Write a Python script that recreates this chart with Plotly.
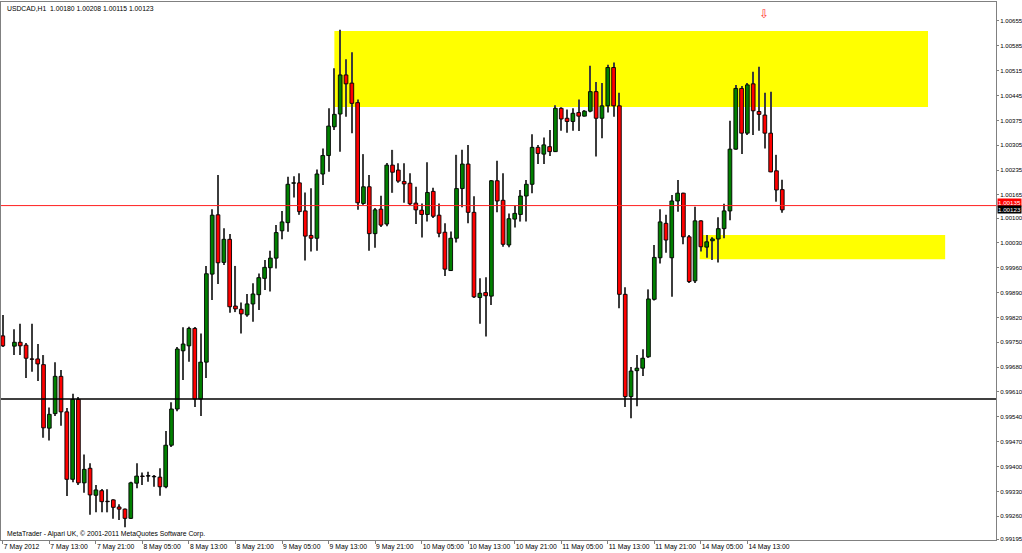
import plotly.graph_objects as go

# ---------------- data ----------------
symbol_title = "USDCAD,H1  1.00180 1.00208 1.00115 1.00123"
credit = "MetaTrader - Alpari UK, \u00a9 2001-2011 MetaQuotes Software Corp."

bar_index = [0] + list(range(2, 135))

opens = [0.99768, 0.99739, 0.99750, 0.99742, 0.99703, 0.99703, 0.99687, 0.99508, 0.99549, 0.99654,
         0.99554, 0.99364, 0.99589, 0.99354, 0.99395, 0.99319, 0.99332, 0.99302, 0.99306, 0.99286,
         0.99280, 0.99254, 0.99353, 0.99373, 0.99373, 0.99371, 0.99370, 0.99343, 0.99460, 0.99562,
         0.99726, 0.99740, 0.99789, 0.99590, 0.99694, 0.99942, 1.00109, 0.99975, 1.00040, 0.99852,
         0.99843, 0.99827, 0.99858, 0.99884, 0.99930, 0.99960, 0.99987, 1.00064, 1.00087, 1.00198,
         1.00199, 1.00120, 1.00051, 1.00043, 1.00224, 1.00276, 1.00357, 1.00393, 1.00503, 1.00480,
         1.00425, 1.00141, 1.00188, 1.00056, 1.00125, 1.00083, 1.00249, 1.00235, 1.00203, 1.00198,
         1.00142, 1.00122, 1.00110, 1.00175, 1.00108, 1.00060, 0.99952, 1.00043, 1.00183, 1.00252,
         1.00116, 0.99876, 0.99890, 0.99880, 1.00205, 1.00150, 1.00024, 1.00097, 1.00110, 1.00162,
         1.00195, 1.00299, 1.00280, 1.00301, 1.00287, 1.00409, 1.00381, 1.00372, 1.00397, 1.00387,
         1.00401, 1.00456, 1.00381, 1.00416, 1.00524, 1.00416, 0.99885, 0.99597, 0.99670, 0.99677,
         0.99709, 0.99871, 0.99988, 1.00085, 0.99988, 1.00148, 1.00170, 1.00047, 0.99923, 1.00092,
         1.00018, 1.00036, 1.00041, 1.00070, 1.00120, 1.00294, 1.00465, 1.00339, 1.00478, 1.00400,
         1.00390, 1.00339, 1.00233, 1.00180]

highs = [0.99827, 0.99787, 0.99802, 0.99748, 0.99802, 0.99745, 0.99714, 0.99566, 0.99694, 0.99672,
         0.99565, 0.99605, 0.99596, 0.99434, 0.99409, 0.99348, 0.99337, 0.99336, 0.99308, 0.99294,
         0.99282, 0.99357, 0.99409, 0.99383, 0.99385, 0.99376, 0.99395, 0.99500, 0.99581, 0.99737,
         0.99792, 0.99794, 0.99793, 0.99775, 0.99965, 1.00125, 1.00221, 1.00071, 1.00055, 0.99965,
         0.99862, 0.99886, 0.99916, 0.99944, 0.99982, 1.00008, 1.00080, 1.00120, 1.00216, 1.00218,
         1.00226, 1.00172, 1.00184, 1.00237, 1.00296, 1.00409, 1.00522, 1.00630, 1.00547, 1.00567,
         1.00434, 1.00280, 1.00221, 1.00128, 1.00163, 1.00255, 1.00292, 1.00254, 1.00254, 1.00226,
         1.00188, 1.00141, 1.00257, 1.00185, 1.00141, 1.00085, 1.00062, 1.00278, 1.00292, 1.00306,
         1.00161, 0.99930, 0.99933, 1.00207, 1.00261, 1.00226, 1.00113, 1.00134, 1.00179, 1.00207,
         1.00336, 1.00306, 1.00327, 1.00348, 1.00418, 1.00412, 1.00406, 1.00409, 1.00434, 1.00404,
         1.00529, 1.00483, 1.00480, 1.00532, 1.00538, 1.00453, 0.99905, 0.99680, 0.99714, 0.99730,
         0.99899, 1.00024, 1.00125, 1.00109, 1.00165, 1.00207, 1.00171, 1.00052, 1.00132, 1.00094,
         1.00052, 1.00046, 1.00102, 1.00140, 1.00374, 1.00475, 1.00472, 1.00480, 1.00512, 1.00526,
         1.00453, 1.00456, 1.00278, 1.00208]

lows = [0.99737, 0.99714, 0.99714, 0.99649, 0.99667, 0.99641, 0.99481, 0.99473, 0.99542, 0.99515,
        0.99317, 0.99356, 0.99348, 0.99326, 0.99264, 0.99271, 0.99271, 0.99271, 0.99253, 0.99249,
        0.99229, 0.99252, 0.99339, 0.99348, 0.99357, 0.99343, 0.99318, 0.99339, 0.99455, 0.99556,
        0.99644, 0.99695, 0.99568, 0.99542, 0.99649, 0.99869, 0.99914, 0.99968, 0.99833, 0.99835,
        0.99775, 0.99822, 0.99808, 0.99841, 0.99897, 0.99893, 0.99958, 1.00040, 1.00061, 1.00158,
        1.00109, 0.99980, 1.00006, 1.00008, 1.00193, 1.00230, 1.00348, 1.00287, 1.00385, 1.00339,
        1.00123, 1.00137, 1.00008, 1.00016, 1.00075, 1.00077, 1.00171, 1.00199, 1.00143, 1.00137,
        1.00083, 1.00045, 1.00090, 1.00100, 1.00046, 0.99937, 0.99951, 1.00031, 1.00130, 1.00085,
        0.99875, 0.99802, 0.99766, 0.99855, 1.00116, 1.00019, 1.00018, 1.00073, 1.00090, 1.00090,
        1.00170, 1.00252, 1.00252, 1.00275, 1.00286, 1.00346, 1.00340, 1.00346, 1.00345, 1.00386,
        1.00398, 1.00273, 1.00325, 1.00397, 1.00385, 0.99846, 0.99568, 0.99536, 0.99570, 0.99655,
        0.99706, 0.99868, 0.99972, 1.00002, 0.99878, 1.00118, 1.00026, 0.99917, 0.99917, 1.00006,
        0.99988, 0.99982, 0.99975, 1.00043, 1.00094, 1.00292, 1.00280, 1.00334, 1.00334, 1.00346,
        1.00296, 1.00229, 1.00146, 1.00115]

closes = [0.99740, 0.99750, 0.99740, 0.99705, 0.99702, 0.99689, 0.99509, 0.99547, 0.99654, 0.99554,
          0.99364, 0.99589, 0.99354, 0.99392, 0.99320, 0.99334, 0.99301, 0.99301, 0.99285, 0.99280,
          0.99254, 0.99354, 0.99373, 0.99372, 0.99373, 0.99371, 0.99343, 0.99460, 0.99562, 0.99731,
          0.99745, 0.99789, 0.99590, 0.99694, 0.99943, 1.00108, 0.99974, 1.00040, 0.99850, 0.99844,
          0.99830, 0.99858, 0.99886, 0.99932, 0.99961, 0.99987, 1.00059, 1.00089, 1.00195, 1.00199,
          1.00118, 1.00049, 1.00043, 1.00224, 1.00276, 1.00359, 1.00392, 1.00503, 1.00478, 1.00423,
          1.00143, 1.00188, 1.00056, 1.00123, 1.00080, 1.00249, 1.00229, 1.00204, 1.00196, 1.00140,
          1.00123, 1.00110, 1.00172, 1.00105, 1.00057, 0.99956, 1.00043, 1.00183, 1.00252, 1.00116,
          0.99878, 0.99888, 0.99881, 1.00205, 1.00148, 1.00026, 1.00098, 1.00113, 1.00162, 1.00195,
          1.00299, 1.00282, 1.00306, 1.00287, 1.00409, 1.00379, 1.00372, 1.00395, 1.00387, 1.00401,
          1.00456, 1.00381, 1.00416, 1.00524, 1.00416, 0.99885, 0.99597, 0.99669, 0.99677, 0.99705,
          0.99872, 0.99989, 1.00089, 1.00038, 1.00148, 1.00170, 1.00047, 0.99921, 1.00092, 1.00019,
          1.00033, 1.00041, 1.00070, 1.00120, 1.00294, 1.00465, 1.00339, 1.00475, 1.00402, 1.00392,
          1.00339, 1.00230, 1.00179, 1.00123]

time_tick_bars = [0, 8, 16, 24, 32, 40, 48, 56, 64, 72, 80, 88, 96, 104, 112, 120, 128]
time_tick_labels = ["7 May 2012", "7 May 13:00", "7 May 21:00", "8 May 05:00", "8 May 13:00",
                    "8 May 21:00", "9 May 05:00", "9 May 13:00", "9 May 21:00", "10 May 05:00",
                    "10 May 13:00", "10 May 21:00", "11 May 05:00", "11 May 13:00", "11 May 21:00",
                    "14 May 05:00", "14 May 13:00"]

price_ticks = [1.00655, 1.00585, 1.00515, 1.00445, 1.00375, 1.00305, 1.00235, 1.00165, 1.00100,
               1.00030, 0.99960, 0.99890, 0.99820, 0.99750, 0.99680, 0.99610, 0.99540, 0.99470,
               0.99400, 0.99330, 0.99260, 0.99195]

red_level = 1.00135
bid_level = 1.00123
black_level = 0.99590
zone_top = [57, 159.05, 1.00413, 1.00627]      # bar from, bar to, price low, price high
zone_bottom = [119.8, 162.0, 0.99984, 1.00052]
arrow_bar = 130.9
arrow_price = 1.00672

# ---------------- figure ----------------
body_base = [min(o, c) for o, c in zip(opens, closes)]
body_height = [max(abs(c - o), 0.000012) for o, c in zip(opens, closes)]
body_color = ["#008000" if c > o else ("#ff0000" if c < o else "#000000")
              for o, c in zip(opens, closes)]
wick_height = [h - l for h, l in zip(highs, lows)]

fig = go.Figure()
fig.add_trace(go.Bar(x=bar_index, y=wick_height, base=lows, width=0.19,
                     marker=dict(color="#3c3c3c", line=dict(width=0)), hoverinfo="skip"))
fig.add_trace(go.Bar(x=bar_index, y=body_height, base=body_base, width=0.64,
                     marker=dict(color=body_color, line=dict(color="black", width=0.9)),
                     hoverinfo="skip"))
fig.add_trace(go.Scatter(x=[arrow_bar], y=[arrow_price], mode="text", text=["\u21e9"],
                         textfont=dict(color="#ff3030", size=12, family="DejaVu Sans"),
                         hoverinfo="skip"))

for z in (zone_top, zone_bottom):
    fig.add_shape(type="rect", xref="x", yref="y", x0=z[0], x1=z[1], y0=z[2], y1=z[3],
                  fillcolor="#ffff00", line=dict(width=0), layer="below")

fig.add_shape(type="line", xref="paper", yref="y", x0=0, x1=1, y0=red_level, y1=red_level,
              line=dict(color="#ff2020", width=1))
fig.add_shape(type="line", xref="paper", yref="y", x0=0, x1=1, y0=black_level, y1=black_level,
              line=dict(color="black", width=1.5))

fig.add_annotation(xref="paper", yref="y", x=1.0, y=red_level, xanchor="left", yanchor="middle",
                   text=f"{red_level:.5f}", showarrow=False, bgcolor="#ff0000",
                   font=dict(color="white", size=6.2), borderpad=0, xshift=1, yshift=3)
fig.add_annotation(xref="paper", yref="y", x=1.0, y=bid_level, xanchor="left", yanchor="middle",
                   text=f"{bid_level:.5f}", showarrow=False, bgcolor="#000000",
                   font=dict(color="white", size=6.2), borderpad=0, xshift=1)

fig.add_annotation(xref="paper", yref="paper", x=0.004, y=0.987, xanchor="left", yanchor="middle",
                   text=symbol_title, showarrow=False, font=dict(size=6.8, color="black"))
fig.add_annotation(xref="paper", yref="paper", x=0.004, y=0.011, xanchor="left", yanchor="middle",
                   text=credit, showarrow=False, font=dict(size=6.8, color="black"))

fig.update_layout(
    template="none",
    width=1022, height=553,
    margin=dict(l=1, r=26, t=2, b=13),
    paper_bgcolor="white", plot_bgcolor="white",
    barmode="overlay", showlegend=False,
    font=dict(family="Liberation Sans", size=7, color="black"),
    xaxis=dict(range=[-0.31, 170.74], tickmode="array", tickvals=time_tick_bars,
               ticktext=time_tick_labels, ticks="outside", ticklen=3, tickcolor="#808080",
               ticklabelposition="outside right", tickangle=0, tickfont=dict(size=6.8),
               showline=True, mirror=True, linecolor="#808080", linewidth=1,
               showgrid=False, zeroline=False, automargin=False),
    yaxis=dict(range=[0.99193, 1.007085], side="right", tickmode="array", tickvals=price_ticks,
               ticktext=[f"{v:.5f}" for v in price_ticks], ticks="outside", ticklen=2,
               tickfont=dict(size=6.1),
               tickcolor="#808080", showline=True, mirror=True, linecolor="#808080",
               linewidth=1, showgrid=False, zeroline=False, automargin=False),
)

fig.write_html("out.html", config={"displayModeBar": False},
               post_script="document.body.style.margin='0px';document.body.style.overflow='hidden';")
